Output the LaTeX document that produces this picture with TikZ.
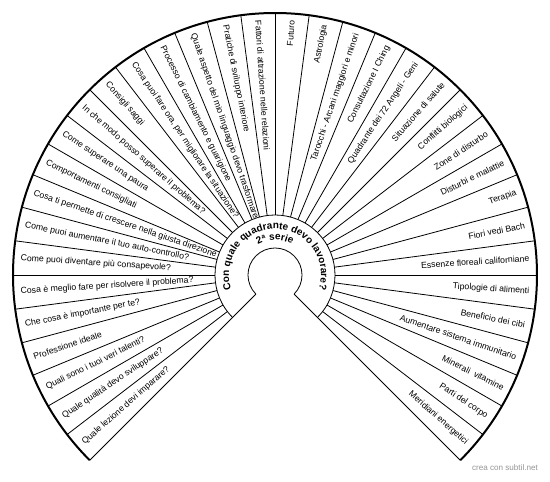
\documentclass[tikz,border=0pt]{standalone}
\usepackage{fontspec}
\setmainfont{Liberation Sans}
\usepackage{xcolor}
\definecolor{ink}{RGB}{0,0,0}
\definecolor{credit}{RGB}{150,150,150}
\usetikzlibrary{decorations.text, calc}

\begin{document}
\begin{tikzpicture}[x=1pt, y=1pt,
    sectorlabel/.style={font=\fontsize{8.7}{10}\selectfont, inner sep=0pt, text=ink},
    spoke/.style={draw=ink, line width=0.8pt},
    rim/.style={draw=ink, line width=2pt}]
        \fill[white] (-275, -207) rectangle (275, 275);
        \useasboundingbox (-275, -207) rectangle (275, 275);
        \coordinate (hub) at (0, 0);
        \foreach \lab [count=\i] in {Quale lezione devi imparare?, Quale qualità devo sviluppare?,
            Quali sono i tuoi veri talenti?, Professione ideale, Che cosa è importante per te?,
            Cosa è meglio fare per risolvere il problema?, Come puoi diventare più consapevole?,
            Come puoi aumentare il tuo auto-controllo?, Cosa ti permette di crescere nella giusta direzione,
            Comportamenti consigliati, Come superare una paura, In che modo posso superare il problema?,
            Consigli saggi, {Cosa puoi fare ora, per migliorare la situazione?},
            Processo di cambiamento e guarigione, Quale aspetto del mio linguaggio devo trasformare,
            Pratiche di sviluppo interiore, Fattori di attrazione nelle relazioni, Futuro, Astrologia,
            Tarocchi - Arcani maggiori e minori, Consultazione I Ching, Quadrante dei 72 Angeli - Geni,
            Situazione di salute, Conflitti biologici, Zone di disturbo, Disturbi e malattie, Terapia,
            Fiori vedi Bach, Essenze floreali californiane, Tipologie di alimenti, Beneficio dei cibi,
            Aumentare sistema immunitario, Minerali\ \ vitamine, Parti del corpo, Meridiani energetici} {
            \pgfmathsetmacro\ang{228.75-7.5*\i}
            \ifdim\ang pt>90pt
                \node[sectorlabel, anchor=west, rotate=\ang+180] (lab\i) at ($(hub)+(\ang:255)$) {\lab};
            \else
                \node[sectorlabel, anchor=east, rotate=\ang] (lab\i) at ($(hub)+(\ang:255)$) {\lab};
            \fi
        }
        \fill[white] (hub) circle (60);
        \foreach \k in {1,...,35} {
            \pgfmathsetmacro\cut{225-7.5*\k}
            \draw[spoke] ($(hub)+(\cut:60)$) -- ($(hub)+(\cut:262)$);
        }
        \draw[spoke] ($(hub)+(225:27)$) -- ($(hub)+(225:262)$);
        \draw[spoke] ($(hub)+(-45:27)$) -- ($(hub)+(-45:262)$);
        \draw[spoke] ($(hub)+(225:60)$) arc[start angle=225, end angle=-45, radius=60];
        \draw[spoke] ($(hub)+(225:27)$) arc[start angle=225, end angle=-45, radius=27];
        \draw[rim] ($(hub)+(225:262)$) arc[start angle=225, end angle=-45, radius=262];
        \path[decorate, decoration={text along path, text align=center,
            text={|\bfseries\fontsize{10}{12}\selectfont|Con quale quadrante devo lavorare?}}]
            ($(hub)+(200:46)$) arc[start angle=200, end angle=-20, radius=46];
        \path[decorate, decoration={text along path, text align=center,
            text={|\bfseries\fontsize{10}{12}\selectfont|2ª serie}}]
            ($(hub)+(150:35)$) arc[start angle=150, end angle=30, radius=35];
        \node[font=\fontsize{8.1}{10}\selectfont, text=credit] (watermark) at (230, -193) {crea con subtil.net};
    \end{tikzpicture}
\end{document}
